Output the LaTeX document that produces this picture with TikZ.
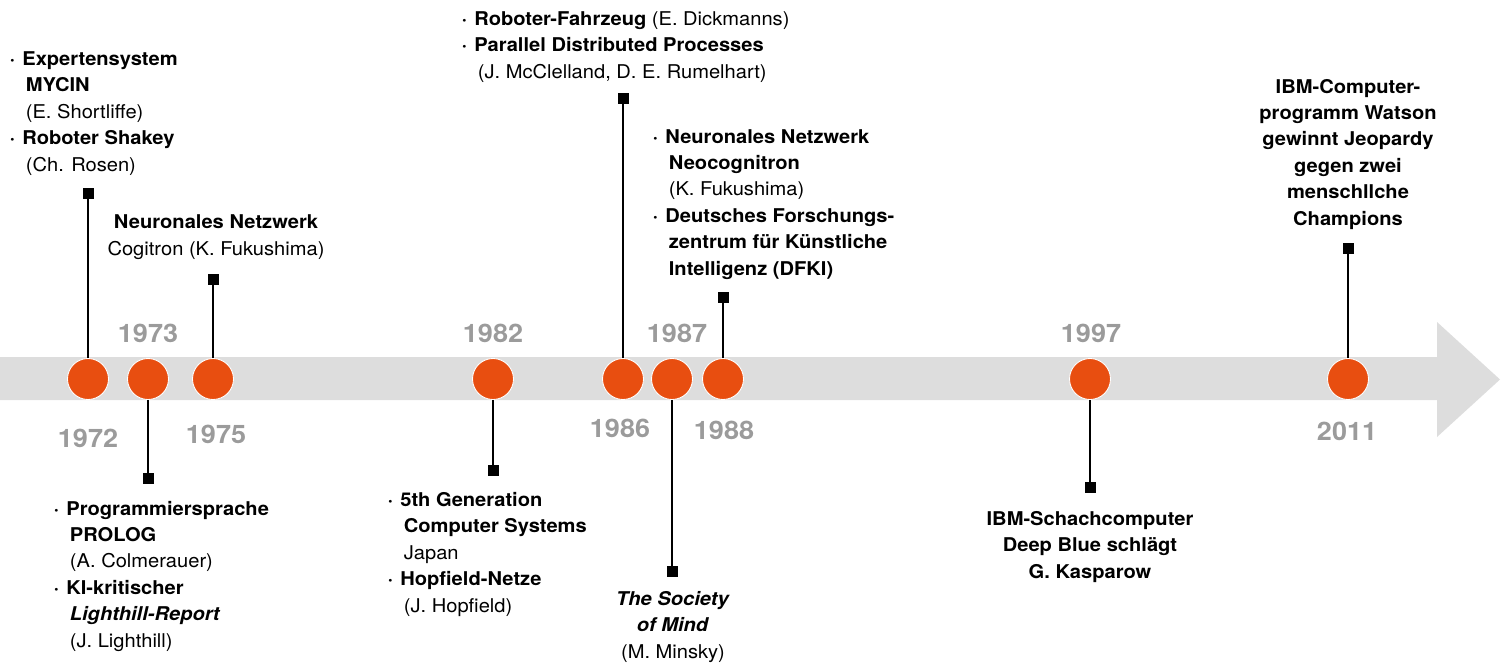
\documentclass[tikz,border=0pt]{standalone}
\usepackage{fontspec}
\setmainfont{TeX Gyre Heros}[FakeStretch=1.06]
\usetikzlibrary{positioning}
\definecolor{bar}{HTML}{DDDDDD}
\definecolor{dot}{HTML}{E84E10}
\definecolor{year}{HTML}{9B9B9B}
\tikzset{
  event/.style = {circle, fill = dot, draw = white, line width = 0.5pt, minimum size = 0.82cm, inner sep = 0},
  pin/.style = {rectangle, fill = black, minimum size = 0.22cm, inner sep = 0},
  stem/.style = {line width = 1.4pt},
  year/.style = {font = \fontsize{14.5}{16}\selectfont\bfseries, text = year, inner sep = 0, anchor = base},
  info/.style = {font = \fontsize{10.8}{15}\selectfont, align = left, inner sep = 0, anchor = base west},
  infoc/.style = {info, align = center, anchor = base}
}
% the base of a text node is the base line of its last line
\newcommand{\bul}{\llap{\textbf{·}\hspace{4pt}}}
\newcommand{\ind}{\hspace*{2pt}}

\begin{document}
\begin{tikzpicture}[x = 0.02cm, y = -0.02cm]
        \useasboundingbox (0,0) rectangle (1501,666);
        % time bar with arrow head
        \fill[bar] (0,357) -- (1437,357) -- (1437,322) -- (1500,379.5)
            -- (1437,437) -- (1437,400) -- (0,400) -- cycle;

        % draw events
        \node[event] (e1972) at (88,379) {};
        \node[event] (e1973) at (148,379) {};
        \node[event] (e1975) at (213,379) {};
        \node[event] (e1982) at (493,379) {};
        \node[event] (e1986) at (623,379) {};
        \node[event] (e1987) at (672,379) {};
        \node[event] (e1988) at (723,379) {};
        \node[event] (e1997) at (1090,379) {};
        \node[event] (e2011) at (1348,379) {};

        % draw pins and stems
        \node[pin] (p1972) [above = 3.18cm of e1972] {};
        \node[pin] (p1973) [below = 1.46cm of e1973] {};
        \node[pin] (p1975) [above = 1.46cm of e1975] {};
        \node[pin] (p1982) [below = 1.30cm of e1982] {};
        \node[pin] (p1986) [above = 5.08cm of e1986] {};
        \node[pin] (p1987) [below = 3.32cm of e1987] {};
        \node[pin] (p1988) [above = 1.10cm of e1988] {};
        \node[pin] (p1997) [below = 1.64cm of e1997] {};
        \node[pin] (p2011) [above = 2.08cm of e2011] {};
        \foreach \y in {1972, 1973, 1975, 1982, 1986, 1987, 1988, 1997, 2011}
            \draw[stem] (e\y) -- (p\y);

        % draw years
        \node[year] (y1972) at (88,447) {1972};
        \node[year] (y1973) at (148,342) {1973};
        \node[year] (y1975) at (216,443) {1975};
        \node[year] (y1982) at (493,342) {1982};
        \node[year] (y1986) at (620,437) {1986};
        \node[year] (y1987) at (677,342) {1987};
        \node[year] (y1988) at (724,439) {1988};
        \node[year] (y1997) at (1091,342) {1997};
        \node[year] (y2011) at (1347,440) {2011};

        % draw texts
        \node[info] (t1972) at (22,171) {\bul\textbf{Expertensystem}\\
            \ind\textbf{MYCIN}\\ \ind(E. Shortliffe)\\
            \bul\textbf{Roboter Shakey}\\ \ind(Ch. Rosen)};
        \node[info] (t1973) at (66,647) {\bul\textbf{Programmiersprache}\\
            \ind\textbf{PROLOG}\\ \ind(A. Colmerauer)\\
            \bul\textbf{KI-kritischer}\\ \ind\textbf{\textit{Lighthill-Report}}\\
            \ind(J. Lighthill)};
        \node[infoc] (t1975) at (216,255) {\textbf{Neuronales Netzwerk}\\
            Cogitron (K. Fukushima)};
        \node[info] (t1982) at (400,612) {\bul\textbf{5th Generation}\\
            \ind\textbf{Computer Systems}\\ \ind Japan\\
            \bul\textbf{Hopfield-Netze}\\ \ind(J. Hopfield)};
        \node[info] (t1986) at (474,78) {\bul\textbf{Roboter-Fahrzeug} (E. Dickmanns)\\
            \bul\textbf{Parallel Distributed Processes}\\
            \ind(J. McClelland, D. E. Rumelhart)};
        \node[infoc] (t1987) at (673,658) {\textbf{\textit{The Society}}\\
            \textbf{\textit{of Mind}}\\ (M. Minsky)};
        \node[info] (t1988) at (665,275) {\bul\textbf{Neuronales Netzwerk}\\
            \ind\textbf{Neocognitron}\\ \ind(K. Fukushima)\\
            \bul\textbf{Deutsches Forschungs-}\\ \ind\textbf{zentrum für Künstliche}\\
            \ind\textbf{Intelligenz (DFKI)}};
        \node[infoc, font = \fontsize{10.8}{15}\selectfont\bfseries] (t1997) at (1090,578)
            {IBM-Schachcomputer\\ Deep Blue schlägt\\ G. Kasparow};
        \node[infoc, font = \fontsize{10.8}{15}\selectfont\bfseries] (t2011) at (1348,225)
            {IBM-Computer-\\ programm Watson\\ gewinnt Jeopardy\\ gegen zwei\\
            menschllche\\ Champions};
\end{tikzpicture}
\end{document}
